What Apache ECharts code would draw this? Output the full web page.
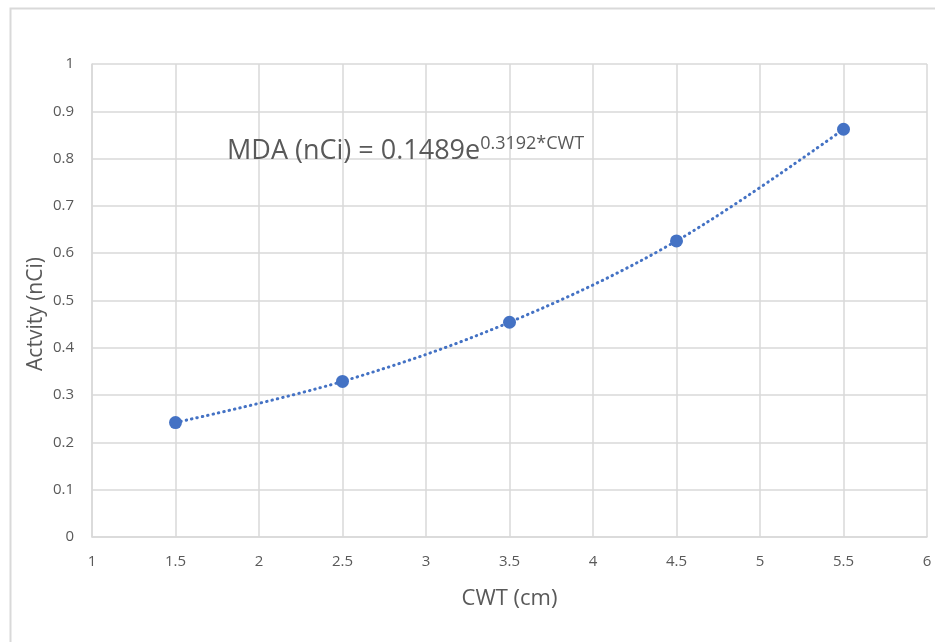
<!DOCTYPE html>
<html><head><meta charset="utf-8">
<script src="https://cdn.jsdelivr.net/npm/echarts@6/dist/echarts.min.js"></script>
<style>html,body{margin:0;padding:0;background:#fff}#c{width:935px;height:642px}</style>
</head><body><div id="c"></div>
<script>
const cwt = [1.5, 2.5, 3.5, 4.5, 5.5];
const activity = [0.242, 0.329, 0.454, 0.626, 0.862];
const xTitle = 'CWT (cm)';
const yTitle = 'Actvity (nCi)';
const eqMain = 'MDA (nCi) = 0.1489e';
const eqSup = '0.3192*CWT';

const pts = cwt.map((x, i) => [x, activity[i]]);
const font = '"Open Sans", "Liberation Sans", sans-serif';
const chart = echarts.init(document.getElementById('c'));
chart.setOption({
  animation: false,
  backgroundColor: '#fff',
  grid: {left: 92, right: 8, top: 64, bottom: 105},
  xAxis: {
    type: 'value', min: 1, max: 6, interval: 0.5,
    name: xTitle, nameLocation: 'middle', nameGap: 51,
    nameTextStyle: {fontSize: 22, color: '#595959', fontFamily: font},
    axisLine: {show: true, lineStyle: {color: '#d9d9d9', width: 1.5}},
    axisTick: {show: false},
    axisLabel: {fontSize: 15, color: '#595959', fontFamily: font, margin: 17},
    splitLine: {show: true, lineStyle: {color: '#d9d9d9', width: 1.5}}
  },
  yAxis: {
    type: 'value', min: 0, max: 1, interval: 0.1,
    axisLine: {show: true, lineStyle: {color: '#d9d9d9', width: 1.5}},
    axisTick: {show: false},
    axisLabel: {fontSize: 15, color: '#595959', fontFamily: font, margin: 18},
    splitLine: {show: true, lineStyle: {color: '#d9d9d9', width: 1.5}}
  },
  series: [
    {
      type: 'line', data: pts, smooth: 0.35, symbol: 'none', z: 2,
      lineStyle: {color: '#4472C4', width: 3, type: [0.5, 5], cap: 'round'}
    },
    {
      type: 'scatter', data: pts, symbol: 'circle', symbolSize: 13, z: 3,
      itemStyle: {color: '#4472C4', opacity: 1}
    }
  ],
  graphic: [
    {type: 'rect', left: 8, top: 6, shape: {width: 940, height: 650},
     style: {fill: 'none', stroke: '#d9d9d9', lineWidth: 2}, silent: true},
    {type: 'text', x: 36, y: 314, rotation: Math.PI / 2, z: 10,
     style: {text: yTitle, fontSize: 21, fill: '#595959', fontFamily: font,
             align: 'center', verticalAlign: 'middle'}},
    {type: 'text', left: 227, top: 135, z: 10,
     style: {
       text: '{a|' + eqMain + '}{b|' + eqSup + '}',
       rich: {
         a: {fontSize: 27, fill: '#595959', fontFamily: font, lineHeight: 32},
         b: {fontSize: 18, fill: '#595959', fontFamily: font, verticalAlign: 'top', lineHeight: 32}
       }
     }}
  ]
});
</script></body></html>
